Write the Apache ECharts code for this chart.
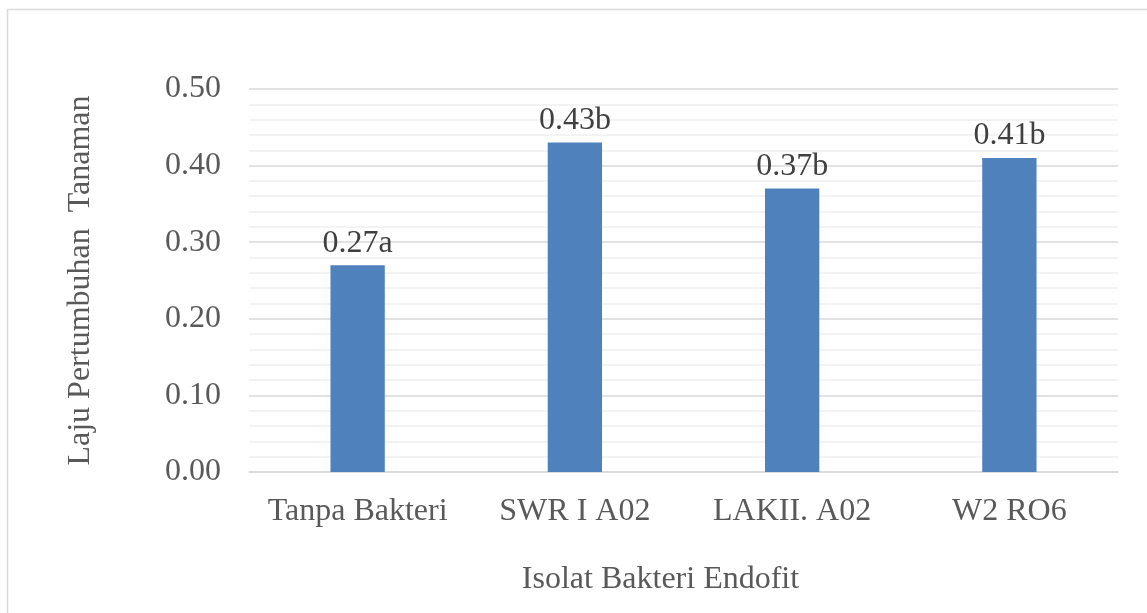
<!DOCTYPE html>
<html>
<head>
<meta charset="utf-8">
<title>Laju Pertumbuhan Tanaman</title>
<script src="https://cdn.jsdelivr.net/npm/echarts@6/dist/echarts.min.js"></script>
<style>
  html, body { margin: 0; padding: 0; background: #ffffff; }
  #chart { width: 1147px; height: 613px; }
</style>
</head>
<body>
<div id="chart"></div>
<script>
// Isolates on the x axis
const categories = ['Tanpa Bakteri', 'SWR I A02', 'LAKII. A02', 'W2 RO6'];
// Plant growth rate per isolate
const values = [0.27, 0.43, 0.37, 0.41];
// Significance letters shown after each value
const letters = ['a', 'b', 'b', 'b'];
// Y axis range and step
const yMin = 0, yMax = 0.5, yStep = 0.1;

const FONT = '"Liberation Serif", "Times New Roman", serif';
const chart = echarts.init(document.getElementById('chart'), null, { renderer: 'canvas' });

chart.setOption({
  animation: false,
  backgroundColor: '#ffffff',
  graphic: [{
    type: 'rect',
    shape: { x: 7.5, y: 9.5, width: 1300, height: 800 },
    style: { fill: 'none', stroke: '#d9d9d9', lineWidth: 1.5 },
    silent: true
  }],
  grid: { left: 249, right: 29, top: 89, bottom: 141, containLabel: false },
  xAxis: {
    type: 'category',
    data: categories,
    name: 'Isolat Bakteri Endofit',
    nameLocation: 'middle',
    nameGap: 92,
    nameTextStyle: { fontFamily: FONT, fontSize: 32, color: '#595959', padding: [0, 46, 0, 0] },
    axisLine: { show: true, lineStyle: { color: '#d9d9d9', width: 1.5 } },
    axisTick: { show: false },
    axisLabel: { interval: 0, fontFamily: FONT, fontSize: 32, color: '#595959', margin: 24 }
  },
  yAxis: {
    type: 'value',
    min: yMin,
    max: yMax,
    interval: yStep,
    name: 'Laju Pertumbuhan  Tanaman',
    nameLocation: 'middle',
    nameGap: 152,
    nameTextStyle: { fontFamily: FONT, fontSize: 32, color: '#595959' },
    axisLine: { show: false },
    axisTick: { show: false },
    axisLabel: {
      fontFamily: FONT, fontSize: 32, color: '#595959', margin: 28,
      formatter: v => v.toFixed(2)
    },
    splitLine: { show: true, lineStyle: { color: '#d9d9d9', width: 1.5 } },
    minorTick: { show: false, splitNumber: 5 },
    minorSplitLine: { show: true, lineStyle: { color: '#f0f0f0', width: 1.5 } }
  },
  series: [{
    type: 'bar',
    data: values,
    barWidth: '25%',
    itemStyle: { color: '#4f81bd' },
    label: {
      show: true,
      position: 'top',
      distance: 6,
      fontFamily: FONT,
      fontSize: 32,
      color: '#404040',
      formatter: p => p.value.toFixed(2) + letters[p.dataIndex]
    }
  }]
});
</script>
</body>
</html>
